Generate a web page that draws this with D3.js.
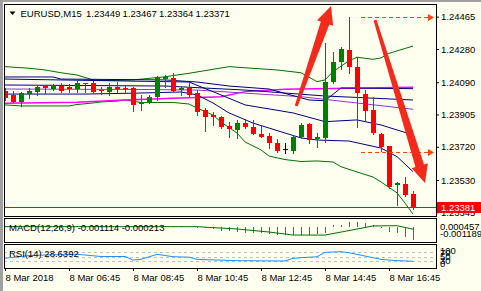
<!DOCTYPE html>
<html lang="en">
<head>
<meta charset="UTF-8">
<title>EURUSD,M15</title>
<script src="https://cdn.jsdelivr.net/npm/d3@7"></script>
<style>
  body { margin: 0; background: #fffff0; }
  svg { display: block; font-family: "Liberation Sans", Arial, sans-serif; font-size: 9.5px; }
  .axis path { display: none; }
  .axis line { stroke: #000; }
  .axis text { fill: #000; font-size: 9.5px; font-family: "Liberation Sans", Arial, sans-serif; }
</style>
</head>
<body>
<svg id="chart" width="481" height="291"></svg>
<script>
// ---- data (M15 bars, 8 Mar 2018 04:45 .. 17:30) ----
const opens = [1.24040,1.24017,1.23978,1.24025,1.24036,1.24068,1.24049,1.24068,1.24061,1.24049,
  1.24084,1.24084,1.24048,1.24034,1.24064,1.24054,1.24054,1.23963,1.23978,1.24005,
  1.24110,1.24112,1.24045,1.24057,1.24027,1.23928,1.23902,1.23891,1.23839,1.23816,
  1.23858,1.23832,1.23795,1.23782,1.23744,1.23705,1.23696,1.23778,1.23851,1.23762,
  1.23773,1.24093,1.24207,1.24274,1.24179,1.24022,1.23928,1.23793,1.23722,1.23501,
  1.23507,1.23449];
const highs = [1.24057,1.24042,1.24034,1.24054,1.24071,1.24071,1.24077,1.24085,1.24077,1.24097,
  1.24085,1.24097,1.24063,1.24083,1.24091,1.24074,1.24060,1.24017,1.24014,1.24128,
  1.24131,1.24141,1.24065,1.24084,1.24045,1.23941,1.23921,1.23896,1.23860,1.23876,
  1.23882,1.23871,1.23845,1.23797,1.23762,1.23740,1.23788,1.23854,1.23859,1.23797,
  1.24313,1.24265,1.24293,1.24465,1.24236,1.24045,1.24004,1.23799,1.23725,1.23520,
  1.23549,1.23467];
const lows = [1.23988,1.23977,1.23954,1.24000,1.24017,1.24028,1.24048,1.24034,1.24036,1.24034,
  1.24031,1.24027,1.24022,1.24017,1.24036,1.24034,1.23925,1.23931,1.23973,1.23988,
  1.24061,1.24040,1.24017,1.24011,1.23902,1.23812,1.23845,1.23828,1.23775,1.23769,
  1.23825,1.23792,1.23776,1.23713,1.23693,1.23682,1.23683,1.23771,1.23742,1.23717,
  1.23749,1.24087,1.24164,1.24144,1.23835,1.23874,1.23793,1.23698,1.23483,1.23387,
  1.23441,1.23364];
const closes = [1.23997,1.23978,1.24030,1.24041,1.24061,1.24055,1.24074,1.24042,1.24051,1.24087,
  1.24078,1.24036,1.24040,1.24064,1.24049,1.24049,1.23962,1.23978,1.24005,1.24120,
  1.24120,1.24041,1.24055,1.24017,1.23922,1.23892,1.23889,1.23835,1.23820,1.23856,
  1.23831,1.23793,1.23778,1.23744,1.23698,1.23705,1.23778,1.23845,1.23759,1.23776,
  1.24093,1.24207,1.24278,1.24175,1.24027,1.23927,1.23797,1.23721,1.23492,1.23515,
  1.23444,1.23371];

// indicator lines on the price chart: [bar index, price]
const bandUpper = [[0,1.24179],[3,1.24170],[5,1.24160],[7,1.24144],[9,1.24131],[11,1.24103],[13,1.24099],
  [16,1.24103],[18,1.24112],[20,1.24121],[23,1.24141],[28,1.24179],[34,1.24160],[37,1.24144],
  [39,1.24093],[40,1.24103],[41,1.24150],[43,1.24213],[44,1.24233],[46,1.24221],[47,1.24229],
  [48,1.24255],[51,1.24297]];
const bandLower = [[0,1.23960],[2,1.23954],[8,1.23954],[9,1.23962],[11,1.23971],[12,1.23977],[14,1.23982],
  [15,1.23988],[17,1.23974],[21,1.23974],[23,1.23965],[24,1.23942],[26,1.23902],[27,1.23862],
  [29,1.23799],[30,1.23748],[32,1.23702],[33,1.23667],[35,1.23647],[37,1.23636],[39,1.23639],
  [41,1.23633],[42,1.23606],[44,1.23576],[46,1.23547],[47,1.23519],[49,1.23456],[50,1.23398],
  [51,1.23335]];
const maFast = [[0,1.24120],[6,1.24120],[7,1.24108],[20,1.24103],[24,1.24091],[28,1.24068],[33,1.24051],
  [38,1.23988],[40,1.23984],[42,1.24057],[51,1.24053]];
const maSlow = [[0,1.24074],[20,1.24068],[30,1.24045],[40,1.24011],[51,1.23988]];
const maMid = [[0,1.24108],[23,1.24091],[27,1.24017],[30,1.23960],[36,1.23914],[40,1.23864],
  [44,1.23874],[47,1.23845],[51,1.23788]];
const maLow = [[0,1.24022],[10,1.24022],[17,1.24028],[22,1.24034],[24,1.24017],[26,1.23971],[28,1.23914],
  [31,1.23856],[35,1.23799],[37,1.23771],[39,1.23759],[43,1.23753],[47,1.23713],[49,1.23664],
  [51,1.23578]];
const maPurple = [[0,1.24051],[18,1.24048],[24,1.24045],[37,1.24007],[51,1.23935]];
const maMagenta = [[0,1.23969],[9,1.23975],[15,1.23988],[21,1.23998],[27,1.24007],[30,1.24036],
  [35,1.24049],[51,1.24061]];

// MACD(12,26,9): main as histogram, signal as line
const macdMain = [0.00002,0.00001,0.00002,0.00003,0.00004,0.00004,0.00005,0.00004,0.00004,0.00005,
  0.00006,0.00004,0.00003,0.00004,0.00004,0.00003,-0.00002,-0.00003,-0.00002,0.00004,
  0.00007,0.00004,0.00002,-0.00001,-0.00008,-0.00016,-0.00024,-0.00033,-0.00037,-0.00041,
  -0.00053,-0.00056,-0.00056,-0.00061,-0.00070,-0.00070,-0.00070,-0.00070,-0.00070,-0.00061,
  -0.00050,0.00013,0.00013,0.00040,0.00040,0.00032,0.00013,-0.00014,-0.00042,-0.00056,
  -0.00084,-0.001114];
const macdSignal = [[0,-0.00001],[24,-0.00001],[29,-0.00020],[33,-0.00045],[36,-0.00070],[40,-0.00070],
  [43,-0.00033],[46,0.00005],[49,0.00007],[51,-0.000213]];

// RSI(14)
const rsi = [[0,42],[1,46],[3,54],[5,57],[9,60],[12,50],[15,50],[16,34],[17,37],[19,60],[21,49],[23,47],
  [24,37],[29,31],[35,29.5],[36,42],[39,49],[40,69],[42,72],[43,67],[45,52],[47,37],[49,31],[51,28.6392]];
const rsiLevels = [70, 50, 30];
const rsiLabels = [100, 70, 50, 30, 0];

// axes
const priceTicks = [1.24465, 1.24280, 1.24090, 1.23905, 1.23720, 1.23530, 1.23345];
const timeTickIdx = [0, 8, 16, 24, 32, 40, 48];
const timeLabels = ["8 Mar 2018", "8 Mar 06:45", "8 Mar 08:45", "8 Mar 10:45", "8 Mar 12:45", "8 Mar 14:45", "8 Mar 16:45"];
const bidPrice = 1.23381;
const macdScaleLabels = ["0.000457", "-0.001189"];

// drawn objects
const levelPrices = [1.24465, 1.23689];
const levelStartIdx = [44.5, 44.5];
const arrowTail = [[36.4, 1.23954], [46.25, 1.24446]];
const arrowTip = [[40.75, 1.24526], [52.5, 1.23513]];

// ---- layout ----
const svg = d3.select("#chart");
const W = 481, H = 291;
const L = 4, R = 436;
const mainTop = 4, mainBottom = 216, macdTop = 218, macdBottom = 242, rsiTop = 244, rsiBottom = 268;

const x = d3.scaleLinear().domain([0, 51]).range([5, 413]);
const y = d3.scaleLinear().domain([1.23530, 1.24465]).range([180, 16.7]);
const yMacd = d3.scaleLinear().domain([-0.001189, 0.000457]).range([241, 221]);
const yRsi = d3.scaleLinear().domain([0, 100]).range([267.5, 245.5]);

svg.append("rect").attr("width", W).attr("height", H).attr("fill", "#fffff0");
// window frame
svg.append("rect").attr("x", 0).attr("y", 0).attr("width", 3).attr("height", H).attr("fill", "#a0a0a0");
svg.append("rect").attr("x", 0).attr("y", 0).attr("width", W).attr("height", 2).attr("fill", "#a0a0a0");

const defs = svg.append("defs");
function clip(id, top, bottom) {
  defs.append("clipPath").attr("id", id)
    .append("rect").attr("x", L + 1).attr("y", top + 1).attr("width", R - L - 1).attr("height", bottom - top - 1);
}
clip("clipMain", mainTop, mainBottom);
clip("clipMacd", macdTop, macdBottom);
clip("clipRsi", rsiTop, rsiBottom);

// ---- main window ----
const gMain = svg.append("g").attr("clip-path", "url(#clipMain)");
const line = d3.line().x(d => x(d[0])).y(d => y(d[1]));

function drawLine(data, color, width) {
  gMain.append("path").datum(data).attr("d", line)
    .attr("fill", "none").attr("stroke", color).attr("stroke-width", width || 1);
}
drawLine(bandUpper, "#007000");
drawLine(bandLower, "#007000");
drawLine(maMagenta, "#ff00ff", 1.5);
drawLine(maPurple, "#9932cc");
drawLine(maSlow, "#000080");
drawLine(maFast, "#000080");
drawLine(maMid, "#000080");
drawLine(maLow, "#000080");

// bid line
const by = Math.round(y(bidPrice)) + 1;
gMain.append("line").attr("x1", L).attr("x2", R).attr("y1", by + 0.5).attr("y2", by + 0.5)
  .attr("stroke", "#ff0000");

// candles
const bars = d3.range(opens.length).map(i => ({ i, o: opens[i], h: highs[i], l: lows[i], c: closes[i] }));
const col = d => d.c > d.o ? "#008000" : d.c < d.o ? "#ff0000" : "#000000";
const gc = gMain.append("g").attr("shape-rendering", "crispEdges");
gc.selectAll("line.wick").data(bars).join("line").attr("class", "wick")
  .attr("x1", d => Math.round(x(d.i)) + 0.5).attr("x2", d => Math.round(x(d.i)) + 0.5)
  .attr("y1", d => Math.round(y(d.h))).attr("y2", d => Math.round(y(d.l)) + 1)
  .attr("stroke", col);
gc.selectAll("rect.body").data(bars).join("rect").attr("class", "body")
  .attr("x", d => Math.round(x(d.i)) - 2).attr("width", 5)
  .attr("y", d => Math.round(y(Math.max(d.o, d.c))))
  .attr("height", d => Math.max(1, Math.round(y(Math.min(d.o, d.c))) - Math.round(y(Math.max(d.o, d.c)))))
  .attr("fill", col);

// dashed levels with arrow heads
levelPrices.forEach((p, k) => {
  const yy = Math.round(y(p)) + 0.5;
  gMain.append("line").attr("x1", x(levelStartIdx[k])).attr("x2", R - 6).attr("y1", yy).attr("y2", yy)
    .attr("stroke", "#ff4500").attr("stroke-dasharray", "4,3");
  gMain.append("path").attr("d", `M${R - 2},${yy}L${R - 8},${yy - 3.5}L${R - 8},${yy + 3.5}Z`).attr("fill", "#ff4500");
});

// big red arrows
arrowTail.forEach((t, k) => {
  const T = [x(t[0]), y(t[1])], P = [x(arrowTip[k][0]), y(arrowTip[k][1])];
  const len = Math.hypot(P[0] - T[0], P[1] - T[1]);
  const d = [(P[0] - T[0]) / len, (P[1] - T[1]) / len], n = [-d[1], d[0]];
  const hl = 18, hw = 8.5, w0 = 1.5, w1 = 4.5;
  const B = [P[0] - d[0] * hl, P[1] - d[1] * hl];
  const pt = (o, s) => [o[0] + n[0] * s, o[1] + n[1] * s];
  const poly = [pt(T, w0), pt(B, w1), pt(B, hw), P, pt(B, -hw), pt(B, -w1), pt(T, -w0)];
  svg.append("path").attr("d", "M" + poly.map(p => p.join(",")).join("L") + "Z")
    .attr("fill", "#f42a1c").attr("clip-path", "url(#clipMain)");
});

// title
svg.append("path").attr("d", "M9.5,11.5L15.5,11.5L12.5,15Z").attr("fill", "#000");
svg.append("text").attr("x", 20.5).attr("y", 16.5).text("EURUSD,M15");
[opens[51], highs[51], lows[51], closes[51]].forEach((v, k) => {
  svg.append("text").attr("x", 86 + 36.5 * k).attr("y", 16.5).text(v.toFixed(5));
});

// price axis
defs.append("clipPath").attr("id", "clipAxisMain").append("rect").attr("x", 0).attr("y", 0).attr("width", 60).attr("height", mainBottom + 1);
svg.append("g").attr("class", "axis").attr("transform", `translate(${R},0)`)
  .attr("clip-path", "url(#clipAxisMain)")
  .call(d3.axisRight(y).tickValues(priceTicks).tickSize(3).tickPadding(2).tickFormat(d3.format(".5f")));

// bid label
svg.append("rect").attr("x", R + 1).attr("y", by - 5).attr("width", W - R).attr("height", 11).attr("fill", "#ff0000");
svg.append("text").attr("x", R + 5).attr("y", by + 3.5).attr("fill", "#fff").text(bidPrice.toFixed(5));

// ---- MACD window ----
const gMacd = svg.append("g").attr("clip-path", "url(#clipMacd)");
gMacd.append("g").attr("shape-rendering", "crispEdges").selectAll("line").data(macdMain).join("line")
  .attr("x1", (d, i) => Math.round(x(i)) + 0.5).attr("x2", (d, i) => Math.round(x(i)) + 0.5)
  .attr("y1", Math.round(yMacd(0))).attr("y2", d => Math.round(yMacd(d)))
  .attr("stroke", "#9932cc");
gMacd.append("path").datum(macdSignal)
  .attr("d", d3.line().x(d => x(d[0])).y(d => yMacd(d[1])))
  .attr("fill", "none").attr("stroke", "#007000");
svg.append("text").attr("x", 9).attr("y", 230.5).text("MACD(12,26,9) " + macdMain[51].toFixed(6) + " " + macdSignal[macdSignal.length - 1][1].toFixed(6));
svg.append("text").attr("x", R + 4).attr("y", 229.5).text(macdScaleLabels[0]);
svg.append("text").attr("x", R + 4).attr("y", 236.5).text(macdScaleLabels[1]);

// ---- RSI window ----
const gRsi = svg.append("g").attr("clip-path", "url(#clipRsi)");
gRsi.selectAll("line.lvl").data(rsiLevels).join("line").attr("class", "lvl")
  .attr("x1", L).attr("x2", R).attr("y1", d => Math.round(yRsi(d)) + 0.5).attr("y2", d => Math.round(yRsi(d)) + 0.5)
  .attr("stroke", "#c0c0c0").attr("stroke-dasharray", "3,3");
gRsi.append("path").datum(rsi)
  .attr("d", d3.line().x(d => x(d[0])).y(d => yRsi(d[1])))
  .attr("fill", "none").attr("stroke", "#1e90ff");
svg.append("text").attr("x", 9).attr("y", 256.5).text("RSI(14) " + rsi[rsi.length - 1][1].toFixed(4));
svg.selectAll("text.rsil").data(rsiLabels).join("text").attr("class", "rsil")
  .attr("x", R + 4).attr("y", d => Math.min(rsiBottom - 4.5, Math.max(rsiTop + 6.5, yRsi(d))) + 3.5)
  .text(d => d);

// ---- window borders ----
[[mainTop, mainBottom], [macdTop, macdBottom], [rsiTop, rsiBottom]].forEach(([t, b]) => {
  svg.append("rect").attr("x", L + 0.5).attr("y", t + 0.5).attr("width", R - L).attr("height", b - t)
    .attr("fill", "none").attr("stroke", "#000").attr("shape-rendering", "crispEdges");
});

// ---- time axis ----
const tx = svg.append("g").attr("class", "axis").attr("transform", `translate(0,${rsiBottom})`)
  .call(d3.axisBottom(x).tickValues(timeTickIdx).tickSize(3).tickPadding(3).tickFormat((d, k) => timeLabels[k]));
tx.selectAll("text").attr("text-anchor", "start");
</script>
</body>
</html>
